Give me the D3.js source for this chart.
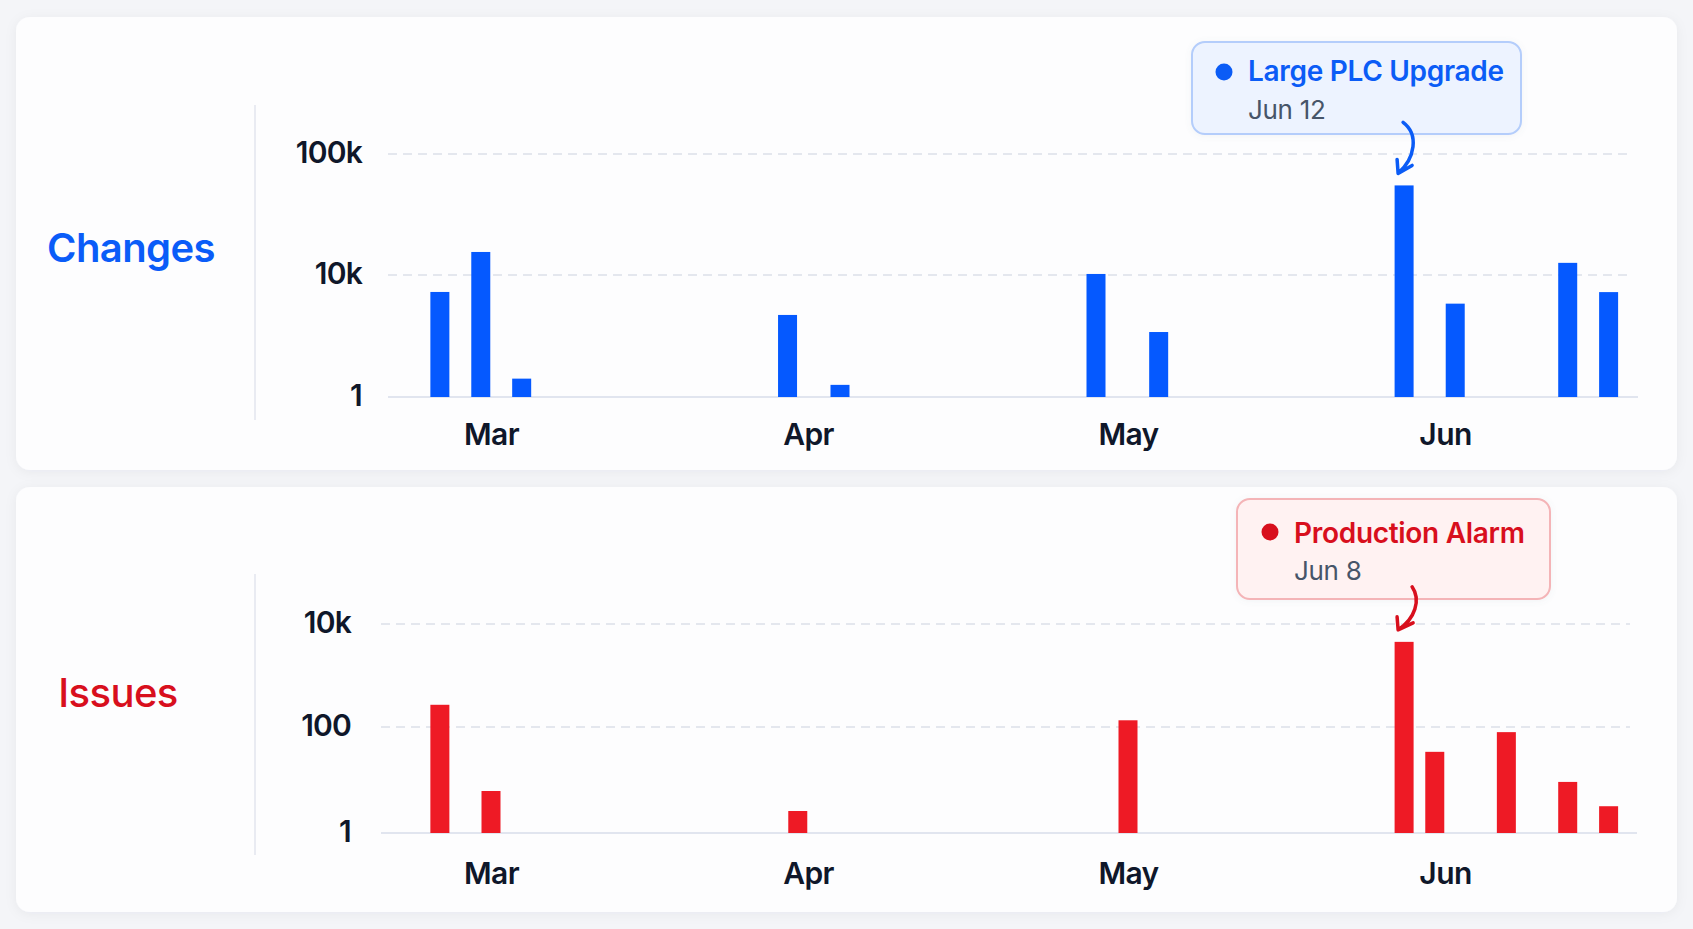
<!DOCTYPE html>
<html>
<head>
    <meta charset="utf-8">
    <style>
        html, body {
            margin: 0;
            padding: 0;
            background: #f4f5f8;
        }

        svg {
            display: block;
            font-family: Inter, "Noto Sans", sans-serif;
        }
    </style>
</head>
<body>
<div id="chart"></div>

<script src="https://cdn.jsdelivr.net/npm/d3@7"></script>
<script>
    "use strict";

    const WIDTH = 1693;
    const HEIGHT = 929;

    // month ticks on the time axis
    const months = ["Mar", "Apr", "May", "Jun"];
    const monthStarts = ["2024-03-01", "2024-04-01", "2024-05-01", "2024-06-01"];

    // Changes panel
    const changeDates = ["2024-02-25", "2024-02-29", "2024-03-04", "2024-03-30", "2024-04-04",
        "2024-04-28", "2024-05-04", "2024-05-28", "2024-06-02", "2024-06-13", "2024-06-17"];
    const changeValues = [2780, 15500, 4, 490, 2.5, 10200, 135, 55000, 1150, 12600, 2750];
    const changeTicks = [1, 10000, 100000];
    const changeTickLabels = ["1", "10k", "100k"];

    // Issues panel
    const issueDates = ["2024-02-25", "2024-03-01", "2024-03-31", "2024-05-01", "2024-05-28",
        "2024-05-31", "2024-06-07", "2024-06-13", "2024-06-17"];
    const issueValues = [270, 6.2, 2.6, 135, 4500, 34, 80, 9.2, 3.2];
    const issueTicks = [1, 100, 10000];
    const issueTickLabels = ["1", "100", "10k"];

    // annotations
    const annotationTitles = ["Large PLC Upgrade", "Production Alarm"];
    const annotationDates = ["Jun 12", "Jun 8"];

    const parse = d3.timeParse("%Y-%m-%d");

    // month starts pin the axis (piecewise), the scale extrapolates either side
    const x = d3.scaleTime()
        .domain(monthStarts.map(parse))
        .range([491, 808, 1128, 1445]);

    const BAR_WIDTH = 19;

    const panels = [
        {
            title: "Changes", color: "#0a5cf8", barColor: "#0559ff", titleWeight: 600, titleSize: 40,
            titleX: 131, titleY: 262,
            card: [16, 17, 1661, 453], sep: [255, 105, 420],
            gridX: [388, 1632, 1638], tickX: 362,
            dates: changeDates, values: changeValues,
            ticks: changeTicks, tickLabels: changeTickLabels,
            yRange: [397, 275, 154], monthY: 445,
            note: {
                box: [1192, 42, 329, 92], dot: [1224, 72], textX: 1248, titleY: 81, subY: 119,
                fill: "#edf3ff", stroke: "#b4cdfb", textColor: "#0b5cf6",
                arrow: {start: [5, -51], c1: [21, -39], c2: [17, -15], w1: [-1, -14], w2: [14, -8]}
            }
        },
        {
            title: "Issues", color: "#d80f1d", barColor: "#ee1a25", titleWeight: 500, titleSize: 40,
            titleX: 118, titleY: 707,
            card: [16, 487, 1661, 425], sep: [255, 574, 855],
            gridX: [381, 1630, 1637], tickX: 351,
            dates: issueDates, values: issueValues,
            ticks: issueTicks, tickLabels: issueTickLabels,
            yRange: [833, 727, 624], monthY: 884,
            note: {
                box: [1237, 499, 313, 100], dot: [1270, 532], textX: 1294, titleY: 543, subY: 580,
                fill: "#fff2f2", stroke: "#f4b4b7", textColor: "#d80f1d",
                arrow: {start: [14, -43], c1: [23, -30], c2: [17, -11], w1: [-1, -13], w2: [15, -7]}
            }
        }
    ];

    const svg = d3.select("#chart").append("svg")
        .attr("width", WIDTH)
        .attr("height", HEIGHT);

    const defs = svg.append("defs");
    defs.append("filter")
        .attr("id", "card-shadow")
        .attr("x", "-5%").attr("y", "-5%")
        .attr("width", "110%").attr("height", "115%")
        .append("feDropShadow")
        .attr("dx", 0).attr("dy", 2)
        .attr("stdDeviation", 6)
        .attr("flood-color", "#1e293b")
        .attr("flood-opacity", 0.05);

    defs.append("filter")
        .attr("id", "note-glow")
        .attr("x", "-10%").attr("y", "-20%")
        .attr("width", "120%").attr("height", "140%")
        .append("feDropShadow")
        .attr("dx", 0).attr("dy", 1)
        .attr("stdDeviation", 3)
        .attr("flood-color", "#64748b")
        .attr("flood-opacity", 0.08);

    svg.append("rect")
        .attr("width", WIDTH)
        .attr("height", HEIGHT)
        .attr("fill", "#f4f5f8");

    function drawPanel(p, idx) {
        const g = svg.append("g");

        const y = d3.scaleLog()
            .domain(p.ticks)
            .range(p.yRange);

        const data = p.dates.map(function (d, i) {
            return {date: parse(d), value: p.values[i]};
        });

        g.append("rect")
            .attr("x", p.card[0])
            .attr("y", p.card[1])
            .attr("width", p.card[2])
            .attr("height", p.card[3])
            .attr("rx", 14)
            .attr("fill", "#fdfdfe")
            .attr("filter", "url(#card-shadow)");

        // series title
        g.append("text")
            .attr("x", p.titleX)
            .attr("y", p.titleY)
            .attr("text-anchor", "middle")
            .attr("font-size", p.titleSize)
            .attr("font-weight", p.titleWeight)
            .attr("letter-spacing", -0.6)
            .attr("fill", p.color)
            .text(p.title);

        g.append("line")
            .attr("x1", p.sep[0]).attr("x2", p.sep[0])
            .attr("y1", p.sep[1]).attr("y2", p.sep[2])
            .attr("stroke", "#e2e5ee")
            .attr("stroke-width", 1.5);

        // dashed grid for the upper ticks, solid base line at 1
        g.selectAll("line.grid")
            .data(p.ticks.slice(1))
            .enter()
            .append("line")
            .attr("class", "grid")
            .attr("x1", p.gridX[0])
            .attr("x2", p.gridX[1])
            .attr("y1", function (d) { return y(d); })
            .attr("y2", function (d) { return y(d); })
            .attr("stroke", "#dcdfe9")
            .attr("stroke-width", 1.5)
            .attr("stroke-dasharray", "9 6");

        g.append("line")
            .attr("x1", p.gridX[0])
            .attr("x2", p.gridX[2])
            .attr("y1", y(1))
            .attr("y2", y(1))
            .attr("stroke", "#e1e5ef")
            .attr("stroke-width", 2);

        // y axis labels
        const yAxis = d3.axisLeft(y)
            .tickValues(p.ticks)
            .tickFormat(function (d, i) { return p.tickLabels[i]; })
            .tickSize(0)
            .tickPadding(0);

        g.append("g")
            .attr("transform", "translate(" + p.tickX + ",8)")
            .call(yAxis)
            .call(function (a) {
                a.select(".domain").remove();
                a.selectAll("text")
                    .attr("dy", null)
                    .attr("font-family", "Inter, sans-serif")
                    .attr("font-size", 30)
                    .attr("font-weight", 600)
                    .attr("letter-spacing", -0.8)
                    .attr("fill", "#0f172a");
            });

        // month labels
        const xAxis = d3.axisBottom(x)
            .tickValues(monthStarts.map(parse))
            .tickFormat(function (d, i) { return months[i]; })
            .tickSize(0)
            .tickPadding(0);

        g.append("g")
            .attr("transform", "translate(0," + p.monthY + ")")
            .call(xAxis)
            .call(function (a) {
                a.select(".domain").remove();
                a.selectAll("text")
                    .attr("dy", null)
                    .attr("y", 0)
                    .attr("font-family", "Inter, sans-serif")
                    .attr("font-size", 30)
                    .attr("font-weight", 600)
                    .attr("letter-spacing", -0.6)
                    .attr("fill", "#0f172a");
            });

        g.selectAll("rect.bar")
            .data(data)
            .enter()
            .append("rect")
            .attr("class", "bar")
            .attr("x", function (d) { return x(d.date) - BAR_WIDTH / 2; })
            .attr("y", function (d) { return y(d.value); })
            .attr("width", BAR_WIDTH)
            .attr("height", function (d) { return y(1) - y(d.value); })
            .attr("fill", p.barColor);

        drawNote(g, p, idx, data, y);
    }

    function drawNote(g, p, idx, data, y) {
        const n = p.note;
        const peak = data.reduce(function (a, b) { return b.value > a.value ? b : a; });
        const tip = [x(peak.date) - 6, y(peak.value) - 12];

        g.append("rect")
            .attr("x", n.box[0])
            .attr("y", n.box[1])
            .attr("width", n.box[2])
            .attr("height", n.box[3])
            .attr("rx", 13)
            .attr("fill", n.fill)
            .attr("stroke", n.stroke)
            .attr("stroke-width", 2)
            .attr("filter", "url(#note-glow)");

        g.append("circle")
            .attr("cx", n.dot[0])
            .attr("cy", n.dot[1])
            .attr("r", 8.5)
            .attr("fill", n.textColor);

        g.append("text")
            .attr("x", n.textX)
            .attr("y", n.titleY)
            .attr("font-size", 28)
            .attr("font-weight", 600)
            .attr("letter-spacing", -0.3)
            .attr("fill", n.textColor)
            .text(annotationTitles[idx]);

        g.append("text")
            .attr("x", n.textX)
            .attr("y", n.subY)
            .attr("font-size", 26)
            .attr("font-weight", 400)
            .attr("letter-spacing", -0.3)
            .attr("fill", "#475569")
            .text(annotationDates[idx]);

        // curved hand-drawn style arrow down to the peak bar
        const a = n.arrow;
        const pt = function (o) { return (tip[0] + o[0]) + "," + (tip[1] + o[1]); };
        const arrowPath = "M" + pt(a.start) + " C" + pt(a.c1) + " " + pt(a.c2) + " " + pt([0, 0]) +
            " M" + pt(a.w1) + " L" + pt([0, 0]) + " L" + pt(a.w2);

        g.append("path")
            .attr("d", arrowPath)
            .attr("fill", "none")
            .attr("stroke", n.textColor)
            .attr("stroke-width", 3.5)
            .attr("stroke-linecap", "round")
            .attr("stroke-linejoin", "round");
    }

    panels.forEach(drawPanel);
</script>
</body>
</html>
